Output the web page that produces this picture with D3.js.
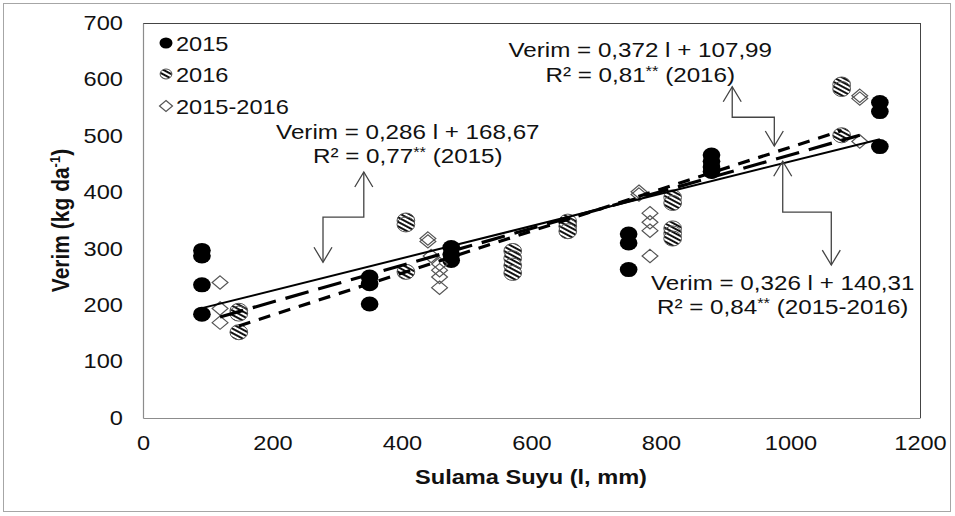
<!DOCTYPE html>
<html>
<head>
<meta charset="utf-8">
<title>Verim - Sulama Suyu</title>
<script src="https://cdnjs.cloudflare.com/ajax/libs/d3/7.8.5/d3.min.js"></script>
<style>
  body { margin: 0; background: #fff; }
  text { font-family: "Liberation Sans", Arial, sans-serif; fill: #111; }
</style>
</head>
<body>
<script>
////////// data //////////
var x2015 = [91, 91, 91, 91, 350, 350, 350, 476, 476, 476, 750, 750, 750, 878, 878, 878, 878, 1138, 1138, 1138];
var y2015 = [297, 287, 236, 184, 250, 238, 202, 302, 290, 279, 326, 310, 263, 466, 455, 445, 437, 559, 543, 481];

var x2016 = [148, 148, 148, 406, 406, 406, 571, 571, 571, 571, 656, 656, 656, 818, 818, 818, 818, 818, 1079, 1079, 1079];
var y2016 = [190, 185, 152, 350, 343, 259, 296, 283, 270, 257, 348, 340, 331, 391, 381, 336, 327, 318, 591, 583, 501];

var xBoth = [119, 119, 119, 440, 440, 445, 458, 458, 458, 458, 766, 766, 783, 783, 783, 783, 1107, 1107, 1107];
var yBoth = [240, 194, 169, 318, 313, 287, 273, 262, 250, 231, 401, 396, 363, 347, 332, 287, 571, 566, 490];

var seriesNames = ["2015", "2016", "2015-2016"];
var slopes = [0.286, 0.372, 0.326];
var intercepts = [168.67, 107.99, 140.31];

var eqText = ["Verim = 0,286 l + 168,67", "Verim = 0,372 l + 107,99", "Verim = 0,326 l + 140,31"];
var r2Text = ["0,77", "0,81", "0,84"];
var r2Tag = ["(2015)", "(2016)", "(2015-2016)"];

var xTicks = [0, 200, 400, 600, 800, 1000, 1200];
var yTicks = [0, 100, 200, 300, 400, 500, 600, 700];

////////// layout //////////
var W = 955, H = 516;
var SX = 1.18; // the picture is stretched sideways
var plot = {left: 143, right: 920, top: 23, bottom: 418};

var svg = d3.select("body").append("svg")
    .attr("width", W)
    .attr("height", H);

svg.append("rect").attr("width", W).attr("height", H).attr("fill", "#fff");
svg.append("rect")
    .attr("x", 3.5).attr("y", 3.5).attr("width", 947).attr("height", 508)
    .attr("fill", "none").attr("stroke", "#a6a6a6");

var defs = svg.append("defs");
var hatch = defs.append("pattern")
    .attr("id", "hatch")
    .attr("patternUnits", "userSpaceOnUse")
    .attr("width", 8).attr("height", 4)
    .attr("patternTransform", "rotate(28)");
hatch.append("rect").attr("width", 8).attr("height", 4).attr("fill", "#fff");
hatch.append("rect").attr("width", 8).attr("height", 2).attr("fill", "#111");

var xScale = d3.scaleLinear().domain([0, 1200]).range([plot.left, plot.right]);
var yScale = d3.scaleLinear().domain([0, 700]).range([plot.bottom, plot.top]);

// plot frame
svg.append("line").attr("x1", plot.left).attr("x2", plot.right).attr("y1", plot.top + 0.5).attr("y2", plot.top + 0.5)
    .attr("stroke", "#444");
svg.append("line").attr("x1", plot.right + 0.5).attr("x2", plot.right + 0.5).attr("y1", plot.top).attr("y2", plot.bottom)
    .attr("stroke", "#444");

////////// axes //////////
var xAxis = d3.axisBottom(xScale).tickValues(xTicks).tickFormat(d3.format("d")).tickSize(0).tickPadding(0);
var yAxis = d3.axisLeft(yScale).tickValues(yTicks).tickFormat(d3.format("d")).tickSize(0).tickPadding(0);

var gx = svg.append("g").attr("transform", "translate(0," + plot.bottom + ")").call(xAxis);
var gy = svg.append("g").attr("transform", "translate(" + plot.left + ",0)").call(yAxis);

[gx, gy].forEach(function(g) {
  g.select(".domain").attr("stroke", "#8c8c8c").attr("stroke-width", 1.2);
  g.selectAll("text")
    .attr("font-family", null)
    .attr("font-size", 20)
    .attr("fill", "#111");
});
gx.selectAll("text").attr("y", 32).attr("dy", null).attr("transform", "scale(" + SX + ",1)");
gy.selectAll("text").attr("x", -17).attr("transform", "scale(" + SX + ",1)");

// axis titles
svg.append("text")
    .attr("transform", "translate(" + 531 + ",484) scale(" + SX + ",1)")
    .attr("text-anchor", "middle")
    .attr("font-size", 20).attr("font-weight", "bold")
    .text("Sulama Suyu (l, mm)");

var yt = svg.append("text")
    .attr("transform", "translate(69," + ((plot.top + plot.bottom) / 2) + ") scale(" + SX + ",1) rotate(-90)")
    .attr("text-anchor", "middle")
    .attr("font-size", 21).attr("font-weight", "bold");
yt.append("tspan").text("Verim (kg da");
yt.append("tspan").attr("font-size", 13).attr("dy", -8).text("-1");
yt.append("tspan").attr("dy", 8).text(")");

////////// points //////////
function zip(xs, ys) { return xs.map(function(x, i) { return {x: x, y: ys[i]}; }); }
var d2015 = zip(x2015, y2015), d2016 = zip(x2016, y2016), dBoth = zip(xBoth, yBoth);

var R = 7.5;
var diamond = "M0," + (-6.7) + "L" + (6.7 * SX) + ",0L0,6.7L" + (-6.7 * SX) + ",0Z";

svg.append("g").selectAll("ellipse").data(d2015).enter().append("ellipse")
    .attr("cx", function(d) { return xScale(d.x); })
    .attr("cy", function(d) { return yScale(d.y); })
    .attr("rx", R * SX).attr("ry", R)
    .attr("fill", "#000");

svg.append("g").selectAll("ellipse").data(d2016).enter().append("ellipse")
    .attr("cx", function(d) { return xScale(d.x); })
    .attr("cy", function(d) { return yScale(d.y); })
    .attr("rx", R * SX).attr("ry", R)
    .attr("fill", "url(#hatch)")
    .attr("stroke", "#555").attr("stroke-width", 1);

svg.append("g").selectAll("path").data(dBoth).enter().append("path")
    .attr("transform", function(d) { return "translate(" + xScale(d.x) + "," + yScale(d.y) + ")"; })
    .attr("d", diamond)
    .attr("fill", "none")
    .attr("stroke", "#555").attr("stroke-width", 1.2);

////////// trend lines //////////
var allSets = [d2015, d2016, dBoth];
var dashes = [null, "12,9", "24,10"];
var widths = [2, 3.2, 3.2];
var line = d3.line().x(function(d) { return xScale(d.x); }).y(function(d) { return yScale(d.y); });

allSets.forEach(function(set, i) {
  var ext = d3.extent(set, function(d) { return d.x; });
  var pts = ext.map(function(x) { return {x: x, y: slopes[i] * x + intercepts[i]}; });
  svg.append("path")
      .attr("d", line(pts))
      .attr("fill", "none")
      .attr("stroke", "#000")
      .attr("stroke-width", widths[i])
      .attr("stroke-dasharray", dashes[i]);
});

////////// annotations (positions in data units) //////////
var notes = [
  {cx: 409, y1: 494, y2: 452, arrow: [[341, 436], [341, 356], [278, 356], [278, 276]]},
  {cx: 768, y1: 640, y2: 595, arrow: [[910, 587], [910, 533], [975, 533], [975, 482]]},
  {cx: 988, y1: 227, y2: 184, arrow: [[988, 455], [988, 365], [1063, 365], [1063, 271]]}
];

notes.forEach(function(n, i) {
  var t1 = svg.append("text")
      .attr("transform", "translate(" + xScale(n.cx) + "," + yScale(n.y1) + ") scale(" + SX + ",1)")
      .attr("text-anchor", "middle").attr("font-size", 20.5)
      .text(eqText[i]);
  var t2 = svg.append("text")
      .attr("transform", "translate(" + xScale(n.cx) + "," + yScale(n.y2) + ") scale(" + SX + ",1)")
      .attr("text-anchor", "middle").attr("font-size", 20.5);
  t2.append("tspan").text("R² = " + r2Text[i]);
  t2.append("tspan").attr("font-size", 14).attr("dy", -6).text("**");
  t2.append("tspan").attr("dy", 6).text(" " + r2Tag[i]);

  var p = n.arrow.map(function(a) { return [xScale(a[0]), yScale(a[1])]; });
  var g = svg.append("g").attr("fill", "none").attr("stroke", "#444").attr("stroke-width", 1.3);
  g.append("path").attr("d", d3.line()(p));
  // open arrow heads: up at the start, down at the end
  var s = p[0], e = p[p.length - 1];
  g.append("path").attr("d", d3.line()([[s[0] - 9, s[1] + 15], s, [s[0] + 9, s[1] + 15]]));
  g.append("path").attr("d", d3.line()([[e[0] - 9, e[1] - 15], e, [e[0] + 9, e[1] - 15]]));
});

////////// legend //////////
var legY = [43, 74, 106];
var leg = svg.append("g");
seriesNames.forEach(function(name, i) {
  var cy = legY[i];
  if (i === 0) {
    leg.append("ellipse").attr("cx", 166).attr("cy", cy).attr("rx", 5.5 * SX).attr("ry", 5.5).attr("fill", "#000");
  } else if (i === 1) {
    leg.append("ellipse").attr("cx", 166).attr("cy", cy).attr("rx", 5 * SX).attr("ry", 5)
        .attr("fill", "url(#hatch)").attr("stroke", "#555");
  } else {
    leg.append("path").attr("transform", "translate(166," + cy + ")")
        .attr("d", "M0,-5.5L" + (5.5 * SX) + ",0L0,5.5L" + (-5.5 * SX) + ",0Z")
        .attr("fill", "none").attr("stroke", "#555").attr("stroke-width", 1.2);
  }
  leg.append("text")
      .attr("transform", "translate(176," + (cy + 8) + ") scale(" + SX + ",1)")
      .attr("font-size", 20)
      .text(name);
});
</script>
</body>
</html>
